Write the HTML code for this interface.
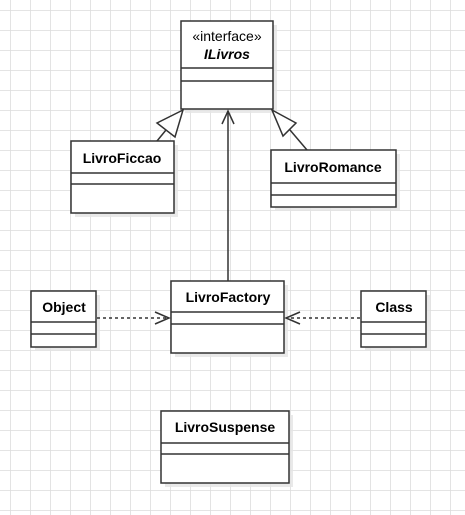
<!DOCTYPE html>
<html><head><style>
html,body{margin:0;padding:0;background:#fff;}
svg{display:block;}
text{font-family:"Liberation Sans",Arial,sans-serif;font-size:14px;fill:#000;}
</style></head><body>
<svg width="465" height="515" viewBox="0 0 465 515" xmlns="http://www.w3.org/2000/svg">
<defs>
<pattern id="g" x="10" y="10" width="20" height="20" patternUnits="userSpaceOnUse">
<path d="M0 0H20M0 0V20" stroke="#dcdcdc" stroke-width="1.6" fill="none"/>
</pattern>
</defs>
<rect width="465" height="515" fill="url(#g)"/>
<g fill="#e4e4e4" opacity="0.8">
<rect x="185" y="25" width="92" height="88"/>
<rect x="75" y="145" width="103" height="72"/>
<rect x="275" y="154" width="125" height="57"/>
<rect x="35" y="295" width="65" height="56"/>
<rect x="175" y="285" width="113" height="72"/>
<rect x="365" y="295" width="65" height="56"/>
<rect x="165" y="415" width="128" height="72"/>
</g>
<g fill="#fff" stroke="#333" stroke-width="1.5">
<rect x="181" y="21" width="92" height="88"/>
<line x1="181" y1="68" x2="273" y2="68"/><line x1="181" y1="81" x2="273" y2="81"/>
<rect x="71" y="141" width="103" height="72"/>
<line x1="71" y1="173" x2="174" y2="173"/><line x1="71" y1="184" x2="174" y2="184"/>
<rect x="271" y="150" width="125" height="57"/>
<line x1="271" y1="183" x2="396" y2="183"/><line x1="271" y1="195" x2="396" y2="195"/>
<rect x="31" y="291" width="65" height="56"/>
<line x1="31" y1="322" x2="96" y2="322"/><line x1="31" y1="334" x2="96" y2="334"/>
<rect x="171" y="281" width="113" height="72"/>
<line x1="171" y1="312" x2="284" y2="312"/><line x1="171" y1="324" x2="284" y2="324"/>
<rect x="361" y="291" width="65" height="56"/>
<line x1="361" y1="322" x2="426" y2="322"/><line x1="361" y1="334" x2="426" y2="334"/>
<rect x="161" y="411" width="128" height="72"/>
<line x1="161" y1="443" x2="289" y2="443"/><line x1="161" y1="454" x2="289" y2="454"/>
</g>
<text x="227" y="41" text-anchor="middle" font-size="14">«interface»</text>
<text x="227" y="59" text-anchor="middle" font-weight="bold" font-style="italic">ILivros</text>
<text x="122" y="163" text-anchor="middle" font-weight="bold">LivroFiccao</text>
<text x="333" y="172" text-anchor="middle" font-weight="bold">LivroRomance</text>
<text x="64" y="312" text-anchor="middle" font-weight="bold">Object</text>
<text x="228" y="302" text-anchor="middle" font-weight="bold">LivroFactory</text>
<text x="394" y="312" text-anchor="middle" font-weight="bold">Class</text>
<text x="225" y="432" text-anchor="middle" font-weight="bold">LivroSuspense</text>
<g stroke="#333" stroke-width="1.5" fill="none">
<line x1="228" y1="281" x2="228" y2="111"/>
<path d="M222 124L228 111L234 124"/>
<line x1="157" y1="141" x2="166" y2="130"/>
<path d="M183 110L157 123L175 137Z" fill="#fff"/>
<line x1="307" y1="150" x2="290" y2="130"/>
<path d="M272 110L296 123L283 136Z" fill="#fff"/>
<line x1="97" y1="318" x2="169" y2="318" stroke-dasharray="3,3"/>
<path d="M155 312L169 318L155 324"/>
<line x1="360" y1="318" x2="286" y2="318" stroke-dasharray="3,3"/>
<path d="M300 312L286 318L300 324"/>
</g>
</svg>
</body></html>
